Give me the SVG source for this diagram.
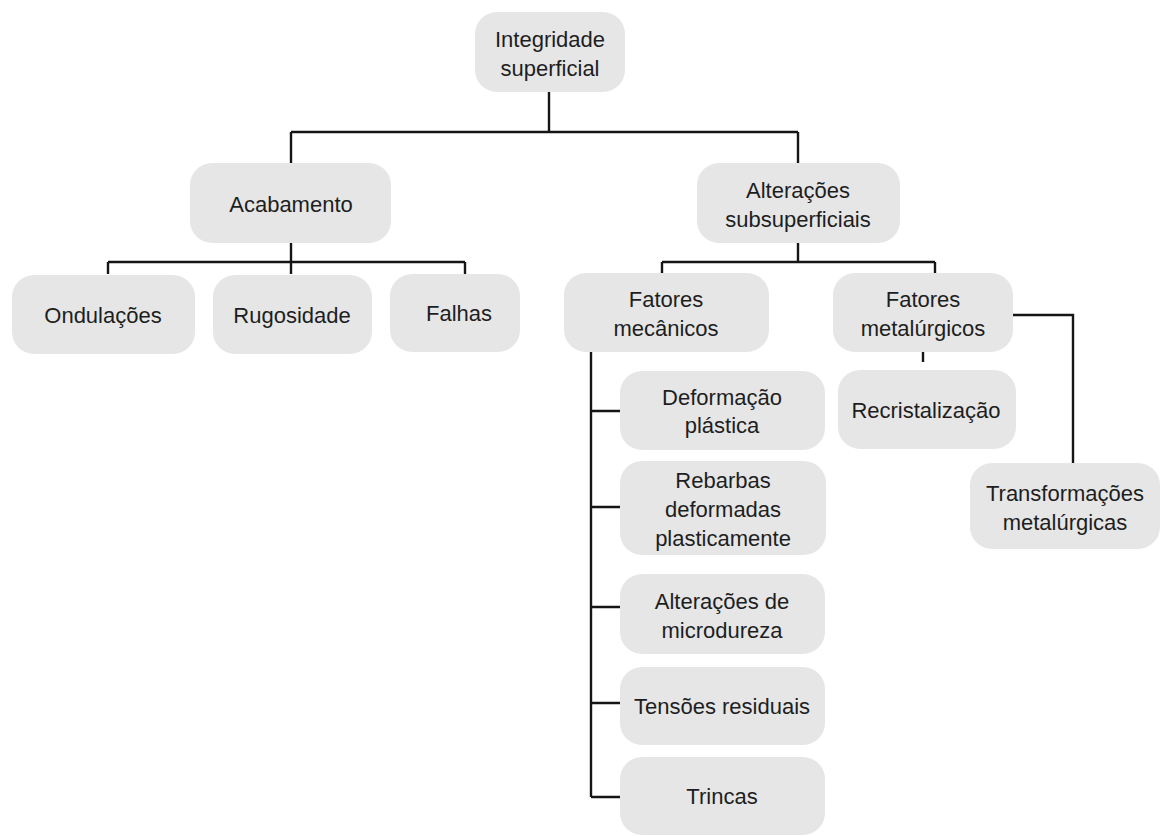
<svg xmlns="http://www.w3.org/2000/svg" width="1172" height="836" viewBox="0 0 1172 836">
<style>
.n rect{fill:#e6e6e7;}
.n text{font-family:"Liberation Sans",Arial,sans-serif;font-size:22px;fill:#1e1e1e;text-anchor:middle;}
.c path{fill:none;stroke:#151515;stroke-width:2.4;}
</style>
<rect width="1172" height="836" fill="#fff"/>
<g class="c">
<path d="M549 92V132M291 132H798M291 132V163M798 132V163"/>
<path d="M291 243V274M108 262H465M108 262V274M465 262V274"/>
<path d="M798 243V262M662 262H935M662 262V273M935 262V273"/>
<path d="M923 351V362"/>
<path d="M1013 315H1073V463"/>
<path d="M591 352V797M591 411H620M591 507H620M591 607H620M591 703H620M591 797H620"/>
</g>
<g id="integridade" class="n"><rect x="475" y="12" width="150" height="80" rx="22"/><text x="550" y="47">Integridade</text><text x="550" y="76">superficial</text></g>
<g id="acabamento" class="n"><rect x="190" y="163" width="201" height="80" rx="22"/><text x="291" y="212">Acabamento</text></g>
<g id="alteracoes" class="n"><rect x="697" y="163" width="203" height="80" rx="22"/><text x="798" y="198">Alterações</text><text x="798" y="227">subsuperficiais</text></g>
<g id="ondulacoes" class="n"><rect x="12" y="275" width="183" height="79" rx="22"/><text x="103" y="323">Ondulações</text></g>
<g id="rugosidade" class="n"><rect x="213" y="275" width="159" height="79" rx="22"/><text x="292" y="323">Rugosidade</text></g>
<g id="falhas" class="n"><rect x="390" y="274" width="130" height="78" rx="22"/><text x="459" y="321">Falhas</text></g>
<g id="mecanicos" class="n"><rect x="564" y="273" width="205" height="79" rx="22"/><text x="666" y="307">Fatores</text><text x="666" y="336">mecânicos</text></g>
<g id="metalurgicos" class="n"><rect x="833" y="273" width="180" height="79" rx="22"/><text x="923" y="307">Fatores</text><text x="923" y="336">metalúrgicos</text></g>
<g id="recristalizacao" class="n"><rect x="838" y="370" width="178" height="79" rx="22"/><text x="926" y="418">Recristalização</text></g>
<g id="transformacoes" class="n"><rect x="970" y="463" width="190" height="86" rx="22"/><text x="1065" y="501">Transformações</text><text x="1065" y="530">metalúrgicas</text></g>
<g id="deformacao" class="n"><rect x="620" y="371" width="205" height="79" rx="22"/><text x="722" y="405">Deformação</text><text x="722" y="433">plástica</text></g>
<g id="rebarbas" class="n"><rect x="620" y="461" width="206" height="94" rx="22"/><text x="723" y="488">Rebarbas</text><text x="723" y="517">deformadas</text><text x="723" y="546">plasticamente</text></g>
<g id="microdureza" class="n"><rect x="620" y="574" width="205" height="80" rx="22"/><text x="722" y="609">Alterações de</text><text x="722" y="638">microdureza</text></g>
<g id="tensoes" class="n"><rect x="620" y="667" width="205" height="78" rx="22"/><text x="722" y="714">Tensões residuais</text></g>
<g id="trincas" class="n"><rect x="620" y="757" width="205" height="78" rx="22"/><text x="722" y="804">Trincas</text></g>
</svg>
